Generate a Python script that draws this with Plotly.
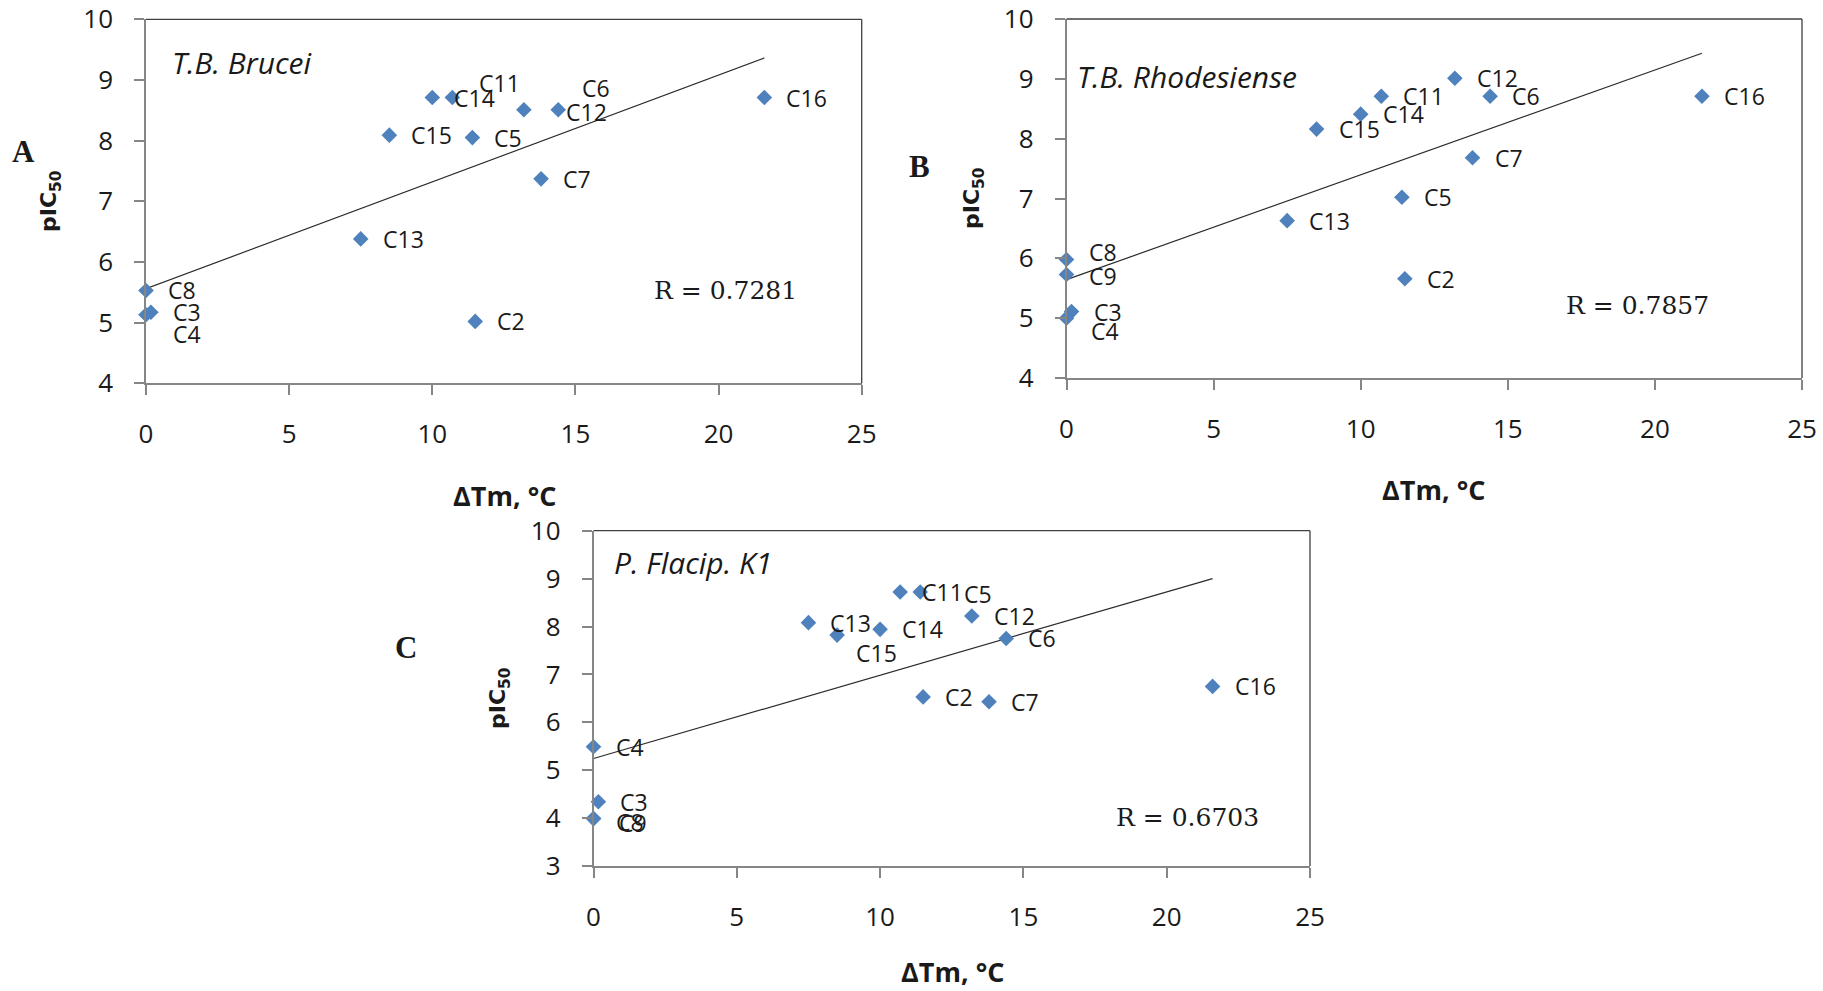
import numpy as np
import plotly.graph_objects as go

W, H = 1823, 991

# ---------------- data ----------------
compounds_A = ["C2", "C3", "C4", "C5", "C6", "C7", "C8", "C11", "C12", "C13", "C14", "C15", "C16"]
dtm_A = [11.5, 0.17, 0.0, 11.4, 14.4, 13.8, 0.0, 10.7, 13.2, 7.5, 10.0, 8.5, 21.6]
pic50_A = [5.02, 5.17, 5.13, 8.05, 8.51, 7.37, 5.53, 8.71, 8.51, 6.38, 8.71, 8.09, 8.71]

compounds_B = ["C2", "C3", "C4", "C5", "C6", "C7", "C8", "C9", "C11", "C12", "C13", "C14", "C15", "C16"]
dtm_B = [11.5, 0.17, 0.0, 11.4, 14.4, 13.8, 0.0, 0.0, 10.7, 13.2, 7.5, 10.0, 8.5, 21.6]
pic50_B = [5.66, 5.11, 5.00, 7.02, 8.71, 7.68, 5.98, 5.73, 8.71, 9.01, 6.63, 8.41, 8.16, 8.71]

compounds_C = ["C2", "C3", "C4", "C5", "C6", "C7", "C8", "C9", "C11", "C12", "C13", "C14", "C15", "C16"]
dtm_C = [11.5, 0.17, 0.0, 11.4, 14.4, 13.8, 0.0, 0.0, 10.7, 13.2, 7.5, 10.0, 8.5, 21.6]
pic50_C = [6.53, 4.34, 5.49, 8.72, 7.75, 6.43, 3.99, 3.99, 8.72, 8.22, 8.08, 7.94, 7.82, 6.75]

titles = ["T.B. Brucei", "T.B. Rhodesiense", "P. Flacip. K1"]
r_texts = ["R = 0.7281", "R = 0.7857", "R = 0.6703"]
panel_letters = ["A", "B", "C"]
x_ticks = [0, 5, 10, 15, 20, 25]
y_ranges = [(4, 10), (4, 10), (3, 10)]

# ---------------- layout geometry (pixels) ----------------
boxes = [  # left, right, top, bottom
    (146, 861.7, 19.3, 383.3),
    (1066.5, 1802, 19, 378),
    (593.5, 1310, 530.7, 866),
]
title_pos = [(170, 62), (1075, 77), (612, 562)]
r_pos = [(652, 290), (1564, 305), (1114, 817)]
letter_pos = [(23, 152), (919, 167), (406, 647)]
ytitle_pos = [(50, 201), (973, 198), (499, 698)]
xtitle_pos = [(505, 495), (1433, 489), (952, 971)]

label_offsets = [
    {"C4": (25, -19), "C11": (25, 15), "C6": (22, 22), "C12": (40, -2)},
    {"C8": (20, 8), "C9": (20, -2), "C4": (22, -13)},
    {"C15": (17, -18), "C5": (42, -2), "C8": (20, -3), "C9": (23, -4)},
]

def px(x):
    return x / W

def py(y):
    return 1 - y / H

AXIS_GRAY = "#868686"
BORDER = "#404040"
MARKER = "#4F81BD"
TXT = "#1a1a1a"
SANS = "'Open Sans', Lato, sans-serif"
SERIF = "'DejaVu Serif', 'Liberation Serif', serif"

fig = go.Figure()
datasets = [
    (compounds_A, dtm_A, pic50_A),
    (compounds_B, dtm_B, pic50_B),
    (compounds_C, dtm_C, pic50_C),
]

annotations = []
shapes = []
layout_axes = {}

for i, (names, xs, ys) in enumerate(datasets):
    sfx = "" if i == 0 else str(i + 1)
    xa, ya = "x" + sfx, "y" + sfx
    xs_arr = np.array(xs, dtype=float)
    ys_arr = np.array(ys, dtype=float)
    slope, icpt = np.polyfit(xs_arr, ys_arr, 1)
    lx = np.array([xs_arr.min(), xs_arr.max()])
    fig.add_trace(go.Scatter(x=lx, y=slope * lx + icpt, mode="lines",
                             line=dict(color="#2b2b2b", width=1.2),
                             xaxis=xa, yaxis=ya, showlegend=False, hoverinfo="skip"))
    fig.add_trace(go.Scatter(x=xs, y=ys, mode="markers",
                             marker=dict(symbol="diamond", size=12, color=MARKER),
                             xaxis=xa, yaxis=ya, showlegend=False, cliponaxis=False,
                             text=names))
    for n, x, y in zip(names, xs, ys):
        dx, dy = label_offsets[i].get(n, (20, 0))
        annotations.append(dict(x=x, y=y, xref=xa, yref=ya, text=n, showarrow=False,
                                xanchor="left", yanchor="middle", xshift=dx, yshift=dy,
                                font=dict(family=SANS, size=23, color=TXT)))

    l, r, t, b = boxes[i]
    layout_axes["xaxis" + sfx] = dict(
        domain=[px(l), px(r)], anchor=ya, range=[0, 25], tickvals=x_ticks,
        showline=True, linecolor=AXIS_GRAY, linewidth=1.5, ticks="outside", ticklen=10,
        tickcolor=AXIS_GRAY, tickwidth=1.5, showgrid=False, zeroline=False, automargin=False,
        tickfont=dict(family=SANS, size=26, color=TXT), ticklabelstandoff=17, fixedrange=True)
    y0, y1 = y_ranges[i]
    layout_axes["yaxis" + sfx] = dict(
        domain=[py(b), py(t)], anchor=xa, range=[y0, y1], tickvals=list(range(y0, y1 + 1)),
        showline=True, linecolor=AXIS_GRAY, linewidth=1.5, ticks="outside", ticklen=10,
        tickcolor=AXIS_GRAY, tickwidth=1.5, showgrid=False, zeroline=False, automargin=False,
        tickfont=dict(family=SANS, size=26, color=TXT), ticklabelstandoff=16, fixedrange=True)

    # top & right border of plot box
    shapes.append(dict(type="line", xref=xa + " domain", yref=ya + " domain",
                       x0=0, x1=1, y0=1, y1=1, line=dict(color=BORDER, width=1.3)))
    shapes.append(dict(type="line", xref=xa + " domain", yref=ya + " domain",
                       x0=1, x1=1, y0=0, y1=1, line=dict(color=BORDER, width=1.3)))

    tx, ty = title_pos[i]
    annotations.append(dict(x=px(tx), y=py(ty), xref="paper", yref="paper", text="<i>" + titles[i] + "</i>",
                            showarrow=False, xanchor="left", yanchor="middle",
                            font=dict(family=SANS, size=30, color=TXT)))
    rx, ry = r_pos[i]
    annotations.append(dict(x=px(rx), y=py(ry), xref="paper", yref="paper", text=r_texts[i],
                            showarrow=False, xanchor="left", yanchor="middle",
                            font=dict(family=SERIF, size=25, color=TXT)))
    lx_, ly_ = letter_pos[i]
    annotations.append(dict(x=px(lx_), y=py(ly_), xref="paper", yref="paper", text="<b>" + panel_letters[i] + "</b>",
                            showarrow=False, xanchor="center", yanchor="middle",
                            font=dict(family="'Liberation Serif', serif", size=31, color=TXT)))
    yx, yy = ytitle_pos[i]
    annotations.append(dict(x=px(yx), y=py(yy), xref="paper", yref="paper",
                            text="<b>pIC<sub>50</sub></b>", textangle=-90,
                            showarrow=False, xanchor="center", yanchor="middle",
                            font=dict(family="'DejaVu Sans', sans-serif", size=22, color=TXT)))
    xx, xy = xtitle_pos[i]
    annotations.append(dict(x=px(xx), y=py(xy), xref="paper", yref="paper",
                            text="<b>ΔTm, °C</b>",
                            showarrow=False, xanchor="center", yanchor="middle",
                            font=dict(family=SANS, size=27, color=TXT)))

fig.update_layout(
    width=W, height=H, margin=dict(l=0, r=0, t=0, b=0, autoexpand=False),
    paper_bgcolor="white", plot_bgcolor="white",
    annotations=annotations, shapes=shapes, showlegend=False,
    **layout_axes,
)

fig.write_html("out.html", config={"displayModeBar": False},
               post_script="document.body.style.margin='0';document.body.style.overflow='hidden';")
